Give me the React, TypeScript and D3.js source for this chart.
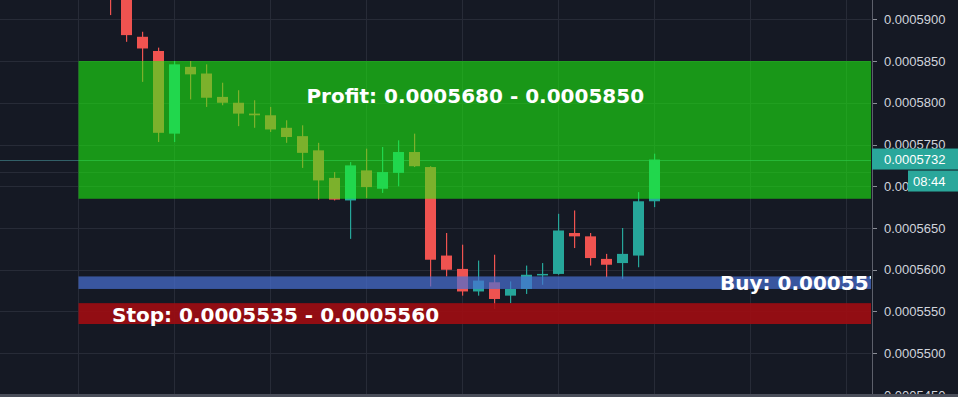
import React from 'react';
import * as d3 from 'd3';

const W = 958;
const H = 397;

// candle data (index 0 = first visible candle)
const openP = [0.000597, 0.000593, 0.0005879, 0.0005862, 0.0005763, 0.0005843, 0.0005835, 0.0005807, 0.00058, 0.0005787, 0.0005785, 0.000577, 0.000576, 0.0005743, 0.000571, 0.0005683, 0.0005719, 0.0005697, 0.0005716, 0.0005741, 0.0005723, 0.0005617, 0.0005601, 0.0005574, 0.0005585, 0.0005569, 0.0005577, 0.0005594, 0.0005595, 0.0005644, 0.000564, 0.0005613, 0.0005608, 0.0005617, 0.0005682];
const highP = [0.0005975, 0.0005935, 0.0005885, 0.0005866, 0.000585, 0.000585, 0.0005846, 0.0005824, 0.0005815, 0.0005803, 0.0005795, 0.0005779, 0.0005773, 0.0005752, 0.0005717, 0.0005729, 0.0005745, 0.0005747, 0.0005755, 0.0005763, 0.0005724, 0.0005644, 0.000563, 0.0005611, 0.0005618, 0.0005586, 0.0005605, 0.0005608, 0.0005667, 0.0005671, 0.0005644, 0.0005619, 0.000565, 0.0005693, 0.0005739];
const lowP = [0.0005905, 0.0005873, 0.0005825, 0.0005753, 0.0005753, 0.0005804, 0.0005795, 0.0005797, 0.0005772, 0.000577, 0.0005765, 0.0005752, 0.0005722, 0.0005684, 0.0005683, 0.0005637, 0.0005686, 0.0005692, 0.00057, 0.0005723, 0.000558, 0.0005592, 0.0005569, 0.0005569, 0.0005553, 0.000556, 0.0005571, 0.0005582, 0.0005594, 0.0005626, 0.0005605, 0.0005591, 0.0005589, 0.0005603, 0.0005675];
const closeP = [0.000593, 0.0005881, 0.0005865, 0.0005764, 0.0005846, 0.0005834, 0.0005806, 0.00058, 0.0005787, 0.0005785, 0.0005768, 0.0005759, 0.000574, 0.0005707, 0.0005684, 0.0005725, 0.0005699, 0.0005717, 0.0005741, 0.0005724, 0.0005612, 0.00056, 0.0005574, 0.0005587, 0.0005565, 0.0005577, 0.0005594, 0.0005595, 0.0005647, 0.000564, 0.0005614, 0.0005606, 0.0005619, 0.0005682, 0.0005732];

// price axis ticks
const priceTicks = [0.000545, 0.00055, 0.000555, 0.00056, 0.000565, 0.00057, 0.000575, 0.00058, 0.000585, 0.00059];
const tickLabels = ['0.0005450', '0.0005500', '0.0005550', '0.0005600', '0.0005650', '0.0005700', '0.0005750', '0.0005800', '0.0005850', '0.0005900'];

// time grid (candle indices of vertical grid lines)
const timeGrid = [-2, 4, 10, 16, 22, 28, 34, 40, 46];

// zones [low, high]
const profitZone = [0.0005685, 0.000585];
const buyZone = [0.0005577, 0.0005592];
const stopZone = [0.0005535, 0.000556];
const zoneStartIndex = -2;

const profitLabel = 'Profit: 0.0005680 - 0.0005850';
const buyLabel = 'Buy: 0.0005577 - 0.0005592';
const stopLabel = 'Stop: 0.0005535 - 0.0005560';

const lastPrice = 0.0005732;
const lastPriceLabel = '0.0005732';
const countdown = '08:44';
const extraLevel = 0.0005717;

const BG = '#151924';
const GRID = '#272b37';
const UP = '#26a69a';
const DOWN = '#ef5350';

export default function App() {
  const plotRight = 872;
  const x = d3.scaleLinear().domain([0, 1]).range([110.5, 126.5]);
  const y = d3.scaleLinear().domain([0.000545, 0.00059]).range([395, 19.25]);
  const bodyW = 11;

  const candles = openP.map((o, i) => ({ o, h: highP[i], l: lowP[i], c: closeP[i], i }));
  const zoneX0 = x(zoneStartIndex);

  const zone = (z: number[], fill: string) => (
    <rect x={zoneX0} width={plotRight - zoneX0 - 1} y={y(z[1])} height={y(z[0]) - y(z[1])} fill={fill} />
  );

  const labelFont = "'DejaVu Sans', sans-serif";
  const axisFont = "'Liberation Sans', Arial, sans-serif";

  return (
    <svg width={W} height={H} style={{ position: 'absolute', left: 0, top: 0, display: 'block' }}>
      <defs>
        <clipPath id="plot">
          <rect x={0} y={0} width={plotRight - 1} height={H} />
        </clipPath>
      </defs>
      <rect x={0} y={0} width={W} height={H} fill={BG} />
      <g clipPath="url(#plot)">
        {priceTicks.map((p, i) => (
          <line key={'h' + i} x1={0} x2={plotRight} y1={Math.round(y(p)) + 0.5} y2={Math.round(y(p)) + 0.5} stroke={GRID} strokeWidth={1} />
        ))}
        {timeGrid.map((t, i) => (
          <line key={'v' + i} x1={Math.floor(x(t)) + 0.5} x2={Math.floor(x(t)) + 0.5} y1={0} y2={H} stroke={GRID} strokeWidth={1} />
        ))}
        <line x1={0} x2={plotRight} y1={Math.round(y(extraLevel)) + 0.5} y2={Math.round(y(extraLevel)) + 0.5} stroke={GRID} strokeWidth={1} />
        <line x1={0} x2={plotRight} y1={Math.round(y(lastPrice)) + 0.5} y2={Math.round(y(lastPrice)) + 0.5} stroke="#3f7f86" strokeWidth={1} opacity={0.7} />
        {candles.map((d) => {
          const col = d.c >= d.o ? UP : DOWN;
          const cx = x(d.i);
          const top = y(Math.max(d.o, d.c));
          const bot = y(Math.min(d.o, d.c));
          return (
            <g key={'c' + d.i}>
              <rect x={cx - 0.5} width={1.2} y={y(d.h)} height={y(d.l) - y(d.h)} fill={col} />
              <rect x={cx - bodyW / 2} width={bodyW} y={top} height={Math.max(1.5, bot - top)} fill={col} />
            </g>
          );
        })}
        {zone(profitZone, 'rgba(30,255,14,0.55)')}
        {zone(buyZone, 'rgba(72,112,212,0.7)')}
        {zone(stopZone, 'rgba(160,12,18,0.9)')}
        <text x={(zoneX0 + plotRight) / 2} y={103} textAnchor="middle" fontFamily={labelFont} fontWeight="bold" fontSize={20} fill="#ffffff">{profitLabel}</text>
        <text x={720} y={290} fontFamily={labelFont} fontWeight="bold" fontSize={20} fill="#ffffff">{buyLabel}</text>
        <text x={112} y={321.5} fontFamily={labelFont} fontWeight="bold" fontSize={20} fill="#ffffff">{stopLabel}</text>
      </g>
      <line x1={plotRight + 0.5} x2={plotRight + 0.5} y1={0} y2={H} stroke="#5d606b" strokeWidth={1} />
      {priceTicks.map((p, i) => (
        <g key={'t' + i}>
          <line x1={plotRight + 1} x2={plotRight + 5} y1={Math.round(y(p)) + 0.5} y2={Math.round(y(p)) + 0.5} stroke="#8a8d96" />
          <text x={884} y={y(p) + 4.5} fontFamily={axisFont} fontSize={13} fill="#d1d4dc">{tickLabels[i]}</text>
        </g>
      ))}
      <rect x={plotRight} y={y(lastPrice) - 11} width={W - plotRight} height={21} fill="#2aa79b" />
      <text x={884} y={y(lastPrice) + 4.5} fontFamily={axisFont} fontSize={13} fill="#ffffff">{lastPriceLabel}</text>
      <rect x={908} y={y(lastPrice) + 11} width={W - 908} height={21} fill="#2aa79b" />
      <text x={913} y={y(lastPrice) + 26.5} fontFamily={axisFont} fontSize={13} fill="#ffffff">{countdown}</text>
      <rect x={0} y={394} width={W} height={3} fill="#4a4e5a" />
    </svg>
  );
}
